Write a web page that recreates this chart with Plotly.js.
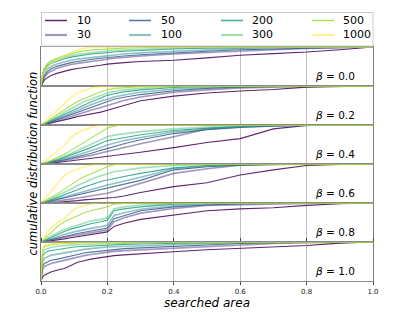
<!DOCTYPE html>
<html>
<head>
<meta charset="utf-8">
<script src="https://cdn.plot.ly/plotly-3.0.1.min.js"></script>
<style>html,body{margin:0;padding:0;background:#fff;}#chart{width:415px;height:312px;}</style>
</head>
<body>
<div id="chart"></div>
<script>
// shared x grid (searched area)
const searchedArea = [0, 0.005, 0.01, 0.02, 0.03, 0.05, 0.07, 0.09, 0.11, 0.13, 0.15, 0.18, 0.2, 0.22, 0.25, 0.3, 0.4, 0.5, 0.6, 0.7, 0.8, 0.9, 1.0];
const sizes = [10, 30, 50, 100, 200, 300, 500, 1000];
const betaLabels = ["0.0", "0.2", "0.4", "0.6", "0.8", "1.0"];
const colors = ["#440154", "#46327e", "#365c8d", "#277f8e", "#1fa187", "#4ac16d", "#a0da39", "#fde725"];

// CDF values per panel, rows in order of sizes
const cdfBeta00 = [
  [0, .08, .15, .22, .27, .33, .38, .42, .45, .47, .5, .53, .56, .58, .6, .63, .66, .72, .79, .83, .87, .93, 1],
  [0, .12, .22, .32, .38, .46, .51, .55, .58, .61, .63, .66, .69, .71, .73, .77, .82, .86, .9, .93, .96, .98, 1],
  [0, .15, .26, .37, .44, .51, .56, .6, .63, .66, .68, .71, .73, .75, .77, .8, .85, .89, .93, .95, .97, .99, 1],
  [0, .2, .32, .44, .5, .57, .62, .66, .69, .71, .73, .76, .78, .8, .82, .85, .89, .93, .96, .98, .99, 1, 1],
  [0, .26, .4, .52, .58, .65, .7, .74, .77, .8, .82, .84, .86, .87, .89, .91, .95, .97, .98, .99, 1, 1, 1],
  [0, .3, .44, .56, .62, .69, .74, .78, .81, .83, .85, .88, .9, .91, .92, .94, .97, .99, 1, 1, 1, 1, 1],
  [0, .32, .46, .58, .65, .72, .78, .83, .87, .9, .92, .94, .95, .96, .97, .98, 1, 1, 1, 1, 1, 1, 1],
  [0, .25, .38, .5, .58, .68, .78, .86, .92, .97, .99, 1, 1, 1, 1, 1, 1, 1, 1, 1, 1, 1, 1]
];
const cdfBeta02 = [
  [0, 0, .01, .03, .05, .08, .12, .17, .22, .25, .28, .33, .38, .43, .5, .62, .74, .82, .87, .91, .97, .99, 1],
  [0, .01, .02, .04, .06, .11, .16, .22, .28, .33, .38, .45, .5, .56, .63, .72, .84, .9, .95, .97, .99, 1, 1],
  [0, .01, .02, .05, .08, .14, .2, .26, .33, .4, .46, .55, .61, .66, .71, .78, .88, .94, .97, .99, 1, 1, 1],
  [0, .01, .03, .06, .09, .16, .23, .3, .38, .45, .52, .61, .67, .72, .77, .84, .92, .96, .98, 1, 1, 1, 1],
  [0, .01, .03, .07, .11, .19, .27, .36, .45, .52, .59, .69, .76, .8, .85, .9, .96, .99, 1, 1, 1, 1, 1],
  [0, .02, .04, .08, .13, .22, .32, .42, .52, .6, .66, .76, .82, .86, .9, .94, .98, 1, 1, 1, 1, 1, 1],
  [0, .02, .05, .1, .16, .28, .4, .5, .6, .68, .75, .85, .91, .94, .96, .98, 1, 1, 1, 1, 1, 1, 1],
  [0, .03, .07, .15, .24, .38, .54, .7, .83, .9, .95, .99, 1, 1, 1, 1, 1, 1, 1, 1, 1, 1, 1]
];
const cdfBeta04 = [
  [0, 0, 0, .01, .02, .04, .06, .08, .1, .12, .14, .17, .19, .21, .24, .3, .42, .55, .65, .9, .99, 1, 1],
  [0, 0, .01, .02, .04, .06, .09, .12, .15, .18, .22, .28, .32, .36, .42, .52, .7, .9, .96, .98, 1, 1, 1],
  [0, 0, .01, .03, .05, .08, .11, .15, .19, .23, .27, .35, .4, .45, .52, .62, .78, .88, .94, .97, .99, 1, 1],
  [0, .01, .02, .03, .05, .09, .13, .18, .23, .28, .33, .42, .49, .54, .6, .68, .82, .9, .95, .98, 1, 1, 1],
  [0, .01, .02, .04, .07, .11, .17, .23, .29, .36, .42, .53, .6, .63, .68, .75, .86, .92, .96, .99, 1, 1, 1],
  [0, .01, .02, .05, .08, .13, .2, .27, .35, .42, .5, .62, .7, .74, .78, .83, .9, .95, .98, 1, 1, 1, 1],
  [0, .01, .02, .05, .09, .16, .25, .35, .45, .55, .65, .82, .92, .97, 1, 1, 1, 1, 1, 1, 1, 1, 1],
  [0, .02, .05, .12, .2, .34, .48, .68, .8, .88, .93, 1, 1, 1, 1, 1, 1, 1, 1, 1, 1, 1, 1]
];
const cdfBeta06 = [
  [0, 0, 0, .01, .01, .02, .03, .05, .06, .08, .09, .11, .12, .14, .18, .27, .42, .52, .72, .85, .96, .99, 1],
  [0, 0, .01, .02, .03, .05, .08, .1, .13, .16, .19, .23, .25, .3, .38, .5, .76, .88, .97, .99, 1, 1, 1],
  [0, 0, .01, .03, .05, .08, .12, .16, .2, .24, .28, .34, .38, .42, .48, .58, .85, .93, .97, .99, 1, 1, 1],
  [0, .01, .02, .04, .06, .1, .15, .2, .25, .3, .35, .42, .46, .5, .56, .66, .88, .95, .98, 1, 1, 1, 1],
  [0, .01, .02, .05, .08, .14, .2, .27, .34, .41, .47, .55, .59, .63, .68, .76, .9, .96, .99, 1, 1, 1, 1],
  [0, .01, .03, .07, .11, .18, .27, .36, .45, .53, .6, .7, .76, .8, .84, .9, .96, .99, 1, 1, 1, 1, 1],
  [0, .02, .04, .09, .14, .24, .36, .48, .58, .67, .75, .86, .93, .98, 1, 1, 1, 1, 1, 1, 1, 1, 1],
  [0, .04, .09, .2, .3, .5, .7, .81, .88, .93, .97, 1, 1, 1, 1, 1, 1, 1, 1, 1, 1, 1, 1]
];
const cdfBeta08 = [
  [0, 0, .01, .02, .03, .05, .08, .11, .14, .17, .2, .23, .26, .4, .48, .58, .69, .8, .85, .88, .94, .98, 1],
  [0, .01, .02, .04, .06, .09, .12, .15, .18, .21, .24, .28, .31, .52, .62, .74, .86, .94, .96, .98, .99, 1, 1],
  [0, .01, .02, .05, .07, .11, .15, .19, .22, .25, .28, .32, .36, .6, .68, .8, .9, .95, .98, .99, 1, 1, 1],
  [0, .01, .03, .06, .09, .14, .19, .24, .28, .32, .35, .39, .43, .68, .75, .84, .93, .97, .99, 1, 1, 1, 1],
  [0, .02, .04, .08, .12, .2, .27, .33, .38, .43, .47, .52, .56, .8, .85, .9, .97, .99, 1, 1, 1, 1, 1],
  [0, .02, .05, .1, .15, .24, .32, .38, .44, .5, .54, .58, .62, .85, .9, .95, .98, 1, 1, 1, 1, 1, 1],
  [0, .04, .08, .18, .26, .4, .52, .6, .68, .75, .8, .87, .9, .97, .99, 1, 1, 1, 1, 1, 1, 1, 1],
  [0, .05, .12, .27, .36, .5, .6, .77, .88, .93, .98, 1, 1, 1, 1, 1, 1, 1, 1, 1, 1, 1, 1]
];
const cdfBeta10 = [
  [0, .1, .15, .2, .23, .28, .32, .4, .48, .52, .56, .6, .63, .65, .67, .7, .75, .8, .84, .87, .91, .97, 1],
  [0, .3, .37, .42, .45, .49, .53, .58, .62, .65, .68, .72, .74, .76, .78, .8, .84, .89, .93, .96, .98, .99, 1],
  [0, .38, .45, .5, .53, .56, .6, .65, .69, .72, .74, .77, .79, .81, .83, .85, .89, .93, .96, .98, .99, 1, 1],
  [0, .5, .58, .63, .66, .69, .72, .76, .79, .81, .83, .86, .87, .88, .89, .91, .94, .96, .98, .99, 1, 1, 1],
  [0, .62, .71, .76, .78, .81, .84, .86, .88, .89, .9, .91, .92, .93, .94, .95, .97, .98, .99, 1, 1, 1, 1],
  [0, .72, .8, .84, .86, .89, .91, .92, .93, .94, .95, .95, .96, .96, .97, .98, .99, 1, 1, 1, 1, 1, 1],
  [0, .82, .88, .91, .93, .95, .96, .97, .97, .98, .98, .98, .99, .99, .99, 1, 1, 1, 1, 1, 1, 1, 1],
  [0, .86, .92, .95, .96, .97, .98, .99, .99, 1, 1, 1, 1, 1, 1, 1, 1, 1, 1, 1, 1, 1, 1]
];
const panels = [cdfBeta00, cdfBeta02, cdfBeta04, cdfBeta06, cdfBeta08, cdfBeta10];

function isLight(k) { return k % 2 === 1; }
function lineOpacity(k) { return isLight(k) ? 0.5 : 0.85; }
function lineWidth(k) { return isLight(k) ? 1.6 : 1.1; }

const traces = [];
panels.forEach((panel, p) => {
  const yname = p === 0 ? 'y' : 'y' + (p + 1);
  panel.forEach((vals, k) => {
    traces.push({
      type: 'scatter', mode: 'lines',
      x: searchedArea, y: vals,
      xaxis: 'x', yaxis: yname,
      name: String(sizes[k]),
      legendgroup: 'n' + sizes[k],
      showlegend: false,
      opacity: lineOpacity(k),
      line: {color: colors[k], width: lineWidth(k)},
      hoverinfo: 'skip'
    });
  });
});

// plot area in pixels: left 41, right 373, top 47, bottom 281
const W = 415, H = 312, L = 41, R = 42, T = 47, B = 31;
const pw = W - L - R, ph = H - T - B;
const px2x = px => (px - L) / pw;
const py2y = py => (H - B - py) / ph;

const shapes = [];
const annotations = [];

// legend box (matplotlib-style, 4 columns, column-major order)
shapes.push({
  type: 'rect', xref: 'paper', yref: 'paper',
  x0: px2x(41.5), x1: px2x(373), y0: py2y(46), y1: py2y(12.5),
  line: {color: '#cccccc', width: 1}, fillcolor: '#ffffff', layer: 'above'
});
const colLineX = [45, 129, 221, 312];
const colTextX = [75, 159, 250, 341];
const rowY = [20.5, 35];
sizes.forEach((n, k) => {
  const col = Math.floor(k / 2), row = k % 2;
  shapes.push({
    type: 'line', xref: 'paper', yref: 'paper',
    x0: px2x(colLineX[col]), x1: px2x(colLineX[col] + 22),
    y0: py2y(rowY[row]), y1: py2y(rowY[row]),
    opacity: lineOpacity(k),
    line: {color: colors[k], width: isLight(k) ? 2.2 : 1.5}, layer: 'above'
  });
  annotations.push({
    xref: 'paper', yref: 'paper', x: px2x(colTextX[col]), y: py2y(rowY[row]),
    xanchor: 'left', yanchor: 'middle', text: String(n), showarrow: false,
    font: {size: 11, color: '#000'}
  });
});

annotations.push({
  xref: 'paper', yref: 'paper', x: px2x(32.5), y: 0.5,
  xanchor: 'center', yanchor: 'middle', textangle: -90,
  text: 'cumulative distribution function', showarrow: false,
  font: {size: 11.5, style: 'italic', color: '#000'}
});

const layout = {
  width: W, height: H,
  margin: {l: L, r: R, t: T, b: B, autoexpand: false},
  paper_bgcolor: '#ffffff', plot_bgcolor: '#ffffff',
  font: {family: 'DejaVu Sans', color: '#000'},
  showlegend: false,
  xaxis: {
    domain: [0, 1], range: [0, 1], anchor: 'y6',
    tickvals: [0, 0.2, 0.4, 0.6, 0.8, 1.0], tickformat: '.1f',
    tickfont: {size: 7, color: '#222'},
    ticks: 'outside', ticklen: 3, tickcolor: '#444',
    showgrid: true, gridcolor: '#b0b0b0', gridwidth: 0.8,
    showline: true, mirror: 'all', linecolor: '#8a8a8a', linewidth: 1.2,
    zeroline: false,
    title: {text: 'searched area', font: {size: 12, style: 'italic'}, standoff: 0}
  },
  shapes: shapes,
  annotations: annotations
};

for (let p = 0; p < 6; p++) {
  const key = p === 0 ? 'yaxis' : 'yaxis' + (p + 1);
  layout[key] = {
    domain: [1 - (p + 1) / 6, 1 - p / 6], range: [0, 1], anchor: 'x',
    showticklabels: false, ticks: '', showgrid: false, zeroline: false,
    showline: true, mirror: true, linecolor: '#808080', linewidth: 1
  };
  layout.annotations.push({
    xref: 'x', yref: p === 0 ? 'y' : 'y' + (p + 1),
    x: 0.952, y: 0.26, xanchor: 'right', yanchor: 'middle',
    text: '<i>β</i> = ' + betaLabels[p], showarrow: false,
    font: {size: 10.5}
  });
}

Plotly.newPlot('chart', traces, layout, {displayModeBar: false, staticPlot: true});
</script>
</body>
</html>
